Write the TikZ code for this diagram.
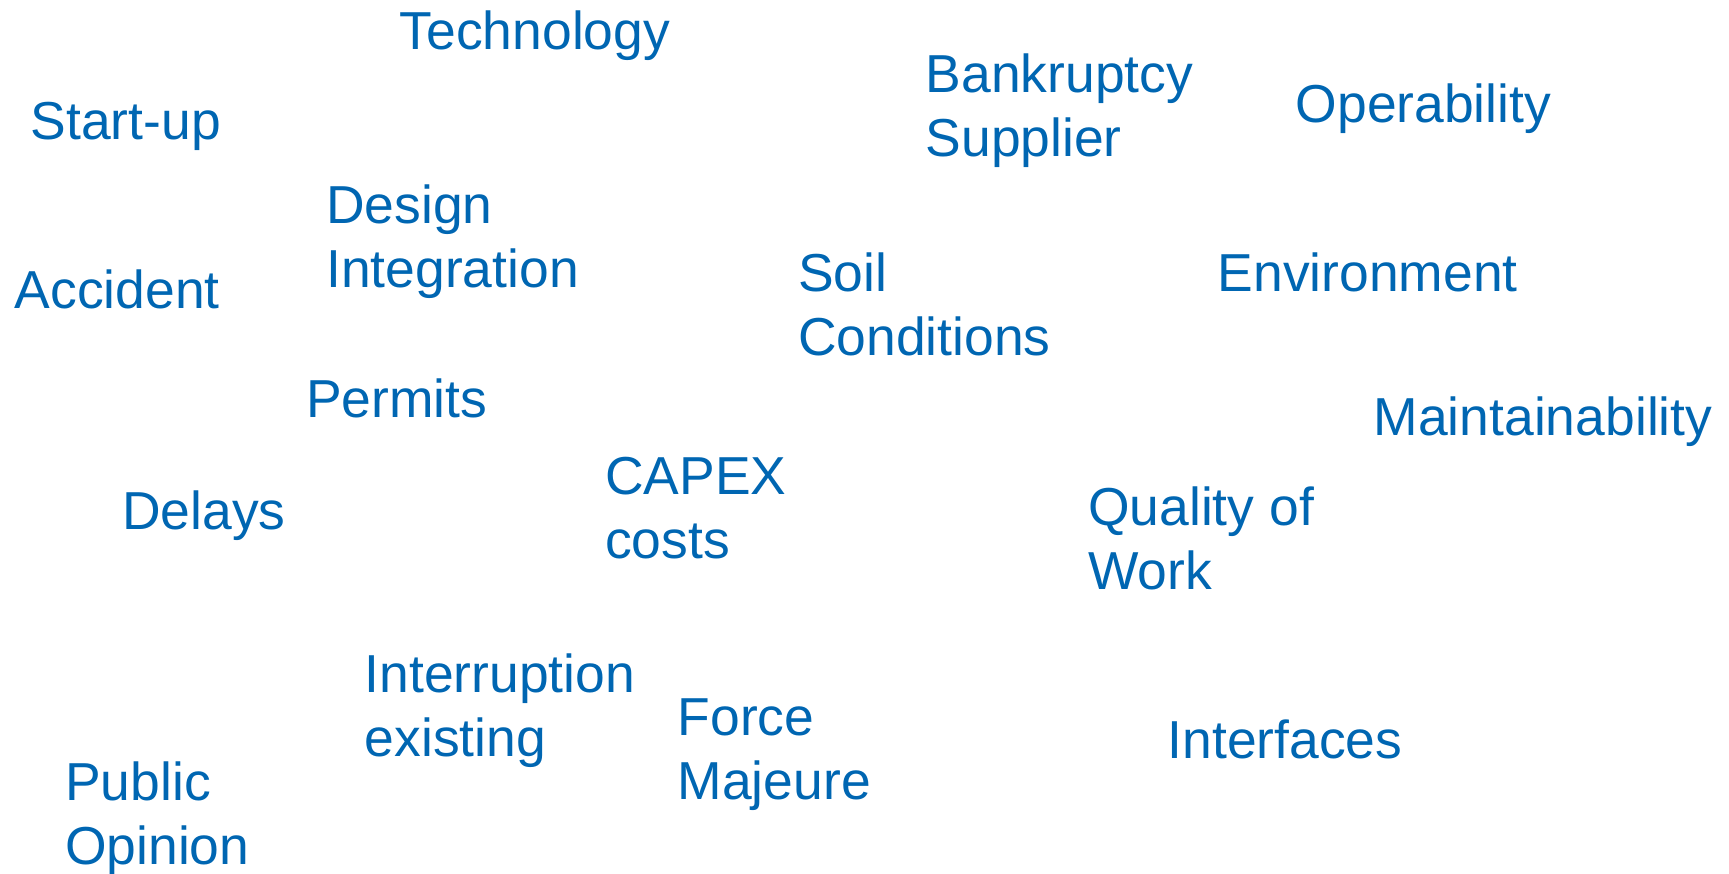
\documentclass[tikz,border=0pt]{standalone}
\usepackage{fontspec}
\setmainfont{Liberation Sans}
\usetikzlibrary{positioning}
\definecolor{riskBlue}{RGB}{0, 102, 178}
\tikzset{
    % Base Word Style (anchored on the baseline of the last line)
    riskWord/.style={
        anchor=base west,
        inner sep=0pt,
        align=left,
        text=riskBlue,
        font=\fontsize{15.2}{18.2}\selectfont
    }
}
\begin{document}
\begin{tikzpicture}[x=0.01cm, y=-0.01cm]

    % --- Canvas ---
    \useasboundingbox (0,0) rectangle (1729,874);

    % --- TOP ROW ---
    \node (tech) [riskWord] at (399,50) {Technology};
    \node (startup) [riskWord] at (30,140) {Start-up};
    \node (bankrupt) [riskWord] at (925,156.7) {Bankruptcy\\Supplier};
    \node (operab) [riskWord] at (1295,122.7) {Operability};

    % --- SECOND ROW ---
    \node (design) [riskWord] at (325.5,287.3) {Design\\Integration};
    \node (accident) [riskWord] at (14,308.3) {Accident};
    \node (soil) [riskWord] at (797.5,356) {Soil\\Conditions};
    \node (environ) [riskWord] at (1217,291.7) {Environment};

    % --- MIDDLE ROW ---
    \node (permits) [riskWord] at (305.5,417.3) {Permits};
    \node (maintain) [riskWord] at (1373,435.7) {Maintainability};
    \node (capex) [riskWord] at (604.5,558.3) {CAPEX\\costs};
    \node (delays) [riskWord] at (121.5,530) {Delays};
    \node (quality) [riskWord] at (1087.5,589.3) {Quality of\\Work};

    % --- BOTTOM ROW ---
    \node (interrupt) [riskWord] at (364,756.7) {Interruption\\existing};
    \node (force) [riskWord] at (677,800) {Force\\Majeure};
    \node (interface) [riskWord] at (1167,759) {Interfaces};
    \node (public) [riskWord] at (64.5,865) {Public\\Opinion};

\end{tikzpicture}
\end{document}
